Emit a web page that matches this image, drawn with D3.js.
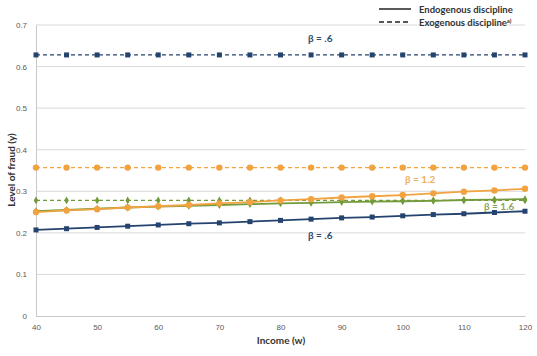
<!DOCTYPE html>
<html>
<head>
<meta charset="utf-8">
<script src="https://cdn.jsdelivr.net/npm/d3@7"></script>
<style>
  body { margin: 0; background: #fff; }
  svg { display: block; font-family: Lato, "Open Sans", sans-serif; }
</style>
</head>
<body>
<svg id="chart" width="537" height="356"></svg>
<script>
const SVG_WIDTH = 537;
const SVG_HEIGHT = 356;
const LEFT = 36, RIGHT = 12, TOP = 25, BOTTOM = 40;

// income values (w)
const income = [40, 45, 50, 55, 60, 65, 70, 75, 80, 85, 90, 95, 100, 105, 110, 115, 120];
const xTicks = [40, 50, 60, 70, 80, 90, 100, 110, 120];
const yTicks = [0, 0.1, 0.2, 0.3, 0.4, 0.5, 0.6, 0.7];

// endogenous discipline (solid)
const endoBeta06 = [0.207, 0.210, 0.213, 0.216, 0.219, 0.222, 0.224, 0.227, 0.230, 0.233, 0.236, 0.238, 0.241, 0.244, 0.246, 0.249, 0.252];
const endoBeta12 = [0.250, 0.254, 0.257, 0.261, 0.264, 0.267, 0.271, 0.274, 0.278, 0.281, 0.285, 0.288, 0.291, 0.295, 0.299, 0.302, 0.306];
const endoBeta16 = [0.252, 0.255, 0.258, 0.261, 0.263, 0.265, 0.267, 0.269, 0.271, 0.272, 0.274, 0.275, 0.276, 0.277, 0.279, 0.280, 0.281];

// exogenous discipline (dashed)
const exoBeta06 = [0.628, 0.628, 0.628, 0.628, 0.628, 0.628, 0.628, 0.628, 0.628, 0.628, 0.628, 0.628, 0.628, 0.628, 0.628, 0.628, 0.628];
const exoBeta12 = [0.357, 0.357, 0.357, 0.357, 0.357, 0.357, 0.357, 0.357, 0.357, 0.357, 0.357, 0.357, 0.357, 0.357, 0.357, 0.357, 0.357];
const exoBeta16 = [0.278, 0.278, 0.278, 0.278, 0.278, 0.278, 0.278, 0.278, 0.278, 0.278, 0.278, 0.278, 0.278, 0.278, 0.278, 0.278, 0.278];

const BLUE = "#24436f", ORANGE = "#f2a340", GREEN = "#739a3b";

const series = [
  { vals: exoBeta06, color: BLUE, dash: "4,3", marker: "square", size: 5 },
  { vals: exoBeta12, color: ORANGE, dash: "4,3", marker: "circle", size: 3.2 },
  { vals: exoBeta16, color: GREEN, dash: "4,3", marker: "diamond", size: 2.6 },
  { vals: endoBeta16, color: GREEN, dash: null, marker: "diamond", size: 2.6 },
  { vals: endoBeta12, color: ORANGE, dash: null, marker: "circle", size: 3.2 },
  { vals: endoBeta06, color: BLUE, dash: null, marker: "square", size: 5 }
];

const svg = d3.select("#chart");

const x = d3.scaleLinear().domain([40, 120]).range([LEFT, SVG_WIDTH - RIGHT]);
const y = d3.scaleLinear().domain([0, 0.7]).range([SVG_HEIGHT - BOTTOM, TOP]);

// gridlines
svg.append("g")
  .selectAll("line")
  .data(yTicks.slice(1))
  .enter()
  .append("line")
  .attr("x1", LEFT).attr("x2", SVG_WIDTH - RIGHT)
  .attr("y1", d => y(d)).attr("y2", d => y(d))
  .attr("stroke", "#d9d9d9").attr("stroke-width", 1);

// axes
const xAxis = d3.axisBottom(x).tickValues(xTicks).tickSize(0).tickPadding(8);
svg.append("g")
  .attr("transform", "translate(0," + y(0) + ")")
  .call(xAxis)
  .call(g => g.select(".domain").attr("stroke", "#c8c8c8"))
  .selectAll("text").attr("fill", "#595959").attr("font-size", 8);

const yAxis = d3.axisLeft(y).tickValues(yTicks).tickSize(0).tickPadding(9)
  .tickFormat(d => d === 0 ? "0" : d3.format(".1f")(d));
svg.append("g")
  .attr("transform", "translate(" + LEFT + ",0)")
  .call(yAxis)
  .call(g => g.select(".domain").attr("stroke", "#c8c8c8"))
  .selectAll("text").attr("fill", "#595959").attr("font-size", 8);

// lines
const line = d3.line().x((d, i) => x(income[i])).y(d => y(d));

series.forEach(s => {
  svg.append("path")
    .datum(s.vals)
    .attr("d", line)
    .attr("fill", "none")
    .attr("stroke", s.color)
    .attr("stroke-width", s.dash ? 1.3 : 1.8)
    .attr("stroke-dasharray", s.dash);

  const g = svg.append("g");
  const pts = g.selectAll("path")
    .data(s.vals)
    .enter()
    .append("path")
    .attr("transform", (d, i) => "translate(" + x(income[i]) + "," + y(d) + ")")
    .attr("fill", s.color);
  if (s.marker === "square") {
    pts.attr("d", d3.symbol(d3.symbolSquare, s.size * s.size)());
  } else if (s.marker === "circle") {
    pts.attr("d", d3.symbol(d3.symbolCircle, Math.PI * s.size * s.size)());
  } else {
    pts.attr("d", d3.symbol(d3.symbolDiamond, 2 * s.size * s.size * 1.3)());
  }
});

// series labels
function label(tx, ty, txt, color) {
  svg.append("text")
    .attr("x", tx).attr("y", ty)
    .attr("fill", color)
    .attr("font-size", 10)
    .attr("font-weight", "bold")
    .text(txt);
}
label(308, 42, "β = .6", "#2d4a6e");
label(405, 183, "β = 1.2", "#f0ad5c");
label(484, 210, "β = 1.6", "#8da55c");
label(308, 239, "β = .6", "#2d4a6e");

// legend
svg.append("line")
  .attr("x1", 379).attr("x2", 411).attr("y1", 9).attr("y2", 9)
  .attr("stroke", "#222").attr("stroke-width", 1.5);
svg.append("line")
  .attr("x1", 379).attr("x2", 411).attr("y1", 22).attr("y2", 22)
  .attr("stroke", "#222").attr("stroke-width", 1.5)
  .attr("stroke-dasharray", "5,3");
svg.append("text")
  .attr("x", 419).attr("y", 12.5)
  .attr("font-size", 9.5).attr("font-weight", "bold").attr("fill", "#333")
  .text("Endogenous discipline");
const exo = svg.append("text")
  .attr("x", 419).attr("y", 25.5)
  .attr("font-size", 9.5).attr("font-weight", "bold").attr("fill", "#333");
exo.append("tspan").text("Exogenous discipline");
exo.append("tspan").attr("font-size", 6).attr("dy", -3).text("a)");

// axis titles
svg.append("text")
  .attr("x", 281).attr("y", 344)
  .attr("text-anchor", "middle")
  .attr("font-size", 10).attr("font-weight", "bold").attr("fill", "#333")
  .text("Income (w)");
svg.append("text")
  .attr("transform", "translate(15,170) rotate(-90)")
  .attr("text-anchor", "middle")
  .attr("font-size", 10).attr("font-weight", "bold").attr("fill", "#333")
  .text("Level of fraud (y)");
</script>
</body>
</html>
